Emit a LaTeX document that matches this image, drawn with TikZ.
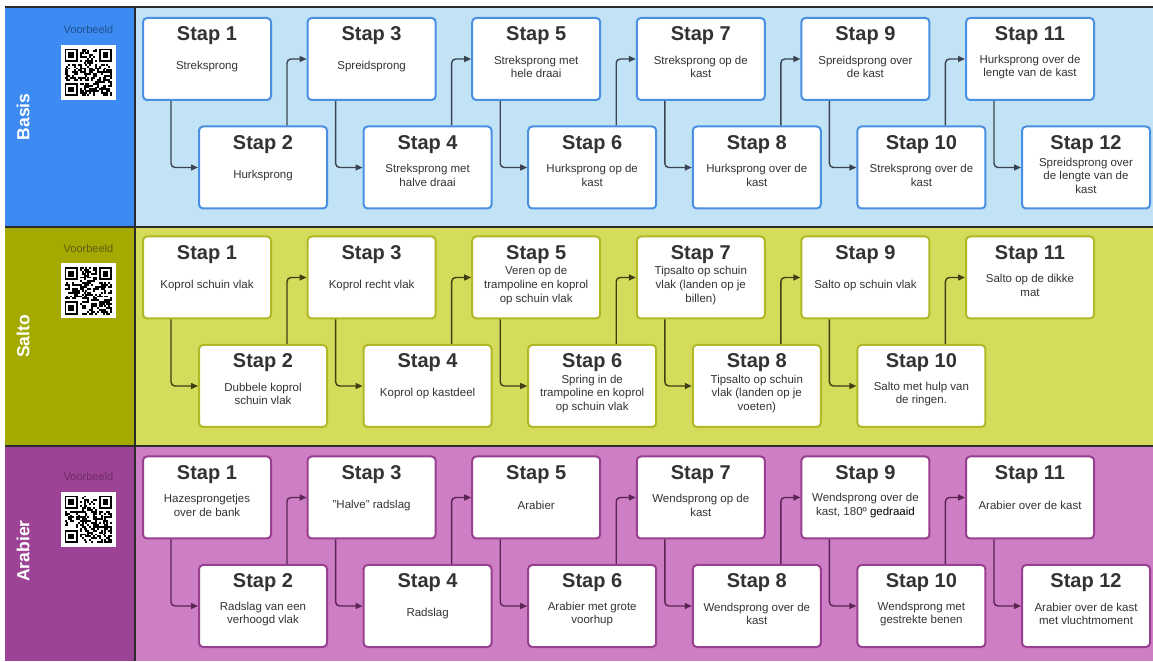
\documentclass[tikz,border=0pt]{standalone}
\usepackage{fontspec}
\setmainfont{Liberation Sans}
\usetikzlibrary{positioning}
\usetikzlibrary{arrows.meta}

\definecolor{tekst}{HTML}{333333}
\definecolor{lijnkleur}{HTML}{2B2B2B}
\definecolor{basiskop}{HTML}{3D8BF2}
\definecolor{basisbaan}{HTML}{C2E2F6}
\definecolor{basisrand}{HTML}{4A90E2}
\definecolor{basispijl}{HTML}{3A4450}
\definecolor{basisvb}{HTML}{1E4F91}
\definecolor{saltokop}{HTML}{A4AA00}
\definecolor{saltobaan}{HTML}{D5DC5B}
\definecolor{saltorand}{HTML}{B0B825}
\definecolor{saltopijl}{HTML}{3F3F14}
\definecolor{saltovb}{HTML}{5B5E12}
\definecolor{arabierkop}{HTML}{9D4395}
\definecolor{arabierbaan}{HTML}{CD7EC5}
\definecolor{arabierrand}{HTML}{98408F}
\definecolor{arabierpijl}{HTML}{5A2453}
\definecolor{arabiervb}{HTML}{6E2B67}

\begin{document}
\begin{tikzpicture}[x=1pt,y=1pt,
    stapbox/.style={draw, fill=white, rounded corners=4pt, line width=2pt,
      minimum width=128pt, minimum height=82pt, inner sep=0pt},
    titel/.style={font=\fontsize{20}{24}\selectfont\bfseries, text=tekst, inner sep=0pt, anchor=base},
    omschr/.style={font=\fontsize{11.5}{13.6}\selectfont, text=tekst, align=center, inner sep=0pt},
    pijl/.style={line width=1.4pt, rounded corners=4pt, -{Triangle[length=7pt,width=6pt]}},
    kop/.style={rotate=90, text=white, font=\fontsize{17.5}{20}\selectfont\bfseries},
    voorbeeld/.style={font=\fontsize{11}{13}\selectfont, inner sep=0pt},
    qrvak/.style={fill=white, minimum size=55pt, inner sep=0pt},
    lijn/.style={draw=lijnkleur, line width=1.3pt}]

  \useasboundingbox (0,0) rectangle (1153,661);

  % banen
  \fill[basiskop] (5,654) rectangle (135,434);
  \fill[basisbaan] (135,654) rectangle (1153,434);
  \fill[saltokop] (5,434) rectangle (135,215);
  \fill[saltobaan] (135,434) rectangle (1153,215);
  \fill[arabierkop] (5,215) rectangle (135,0);
  \fill[arabierbaan] (135,215) rectangle (1153,0);
  \draw[lijn] (5,654) -- (1153,654);
  \draw[lijn] (5,434) -- (1153,434);
  \draw[lijn] (5,215) -- (1153,215);
  \draw[lijn] (135,654) -- (135,0);

  % koppen
  \node[kop] (basis) at (23,544) {Basis};
  \node[kop] (salto) at (23,324.5) {Salto};
  \node[kop] (arabier) at (23,110) {Arabier};
  \node[voorbeeld, text=basisvb] (vb) at (88.5,631) {Voorbeeld};
  \node[voorbeeld, text=saltovb] (vs) at (88.5,412) {Voorbeeld};
  \node[voorbeeld, text=arabiervb] (va) at (88.5,184) {Voorbeeld};
  \node[qrvak] (qrb) at (88.5,588.5) {};
  \node[qrvak] (qrs) at (88.5,370) {};
  \node[qrvak] (qra) at (88.5,141.5) {};

  % qr-codes
  \pgfmathsetseed{11}
  \foreach \q in {qrb,qrs,qra}{
    \foreach \fx/\fy in {0/0,18/0,0/18}{
      \fill ([shift={(3.75+\fx*1.9,-3.75-\fy*1.9)}]\q.north west) rectangle +(13.3,-13.3);
      \fill[white] ([shift={(5.65+\fx*1.9,-5.65-\fy*1.9)}]\q.north west) rectangle +(9.5,-9.5);
      \fill ([shift={(7.55+\fx*1.9,-7.55-\fy*1.9)}]\q.north west) rectangle +(5.7,-5.7);
    }
    \foreach \r in {0,...,24}{
      \foreach \c in {0,...,24}{
        \pgfmathtruncatemacro\zwart{((\r<8 && \c<8) || (\r<8 && \c>16) || (\r>16 && \c<8)) ? 0 : random(0,1)}
        \ifnum\zwart=1
          \fill ([shift={(3.75+\c*1.9,-3.75-\r*1.9)}]\q.north west) rectangle +(1.95,-1.95);
        \fi
      }
    }
  }

  % basis
  \foreach \i/\oms in {1/Streksprong, 2/Hurksprong, 3/Spreidsprong,
      4/{Streksprong met\\halve draai}, 5/{Streksprong met\\hele draai},
      6/{Hurksprong op de\\kast}, 7/{Streksprong op de\\kast},
      8/{Hurksprong over de\\kast}, 9/{Spreidsprong over\\de kast},
      10/{Streksprong over de\\kast}, 11/{Hurksprong over de\\lengte van de kast},
      12/{Spreidsprong over\\de lengte van de\\kast}}{
    \pgfmathsetmacro\x{207+164.6*int((\i-1)/2)+56*(1-mod(\i,2))}
    \pgfmathsetmacro\y{602-108.5*(1-mod(\i,2))}
    \node[stapbox, draw=basisrand] (b\i) at (\x,\y) {};
    \node[titel] (tb\i) at ([yshift=-24pt]b\i.north) {Stap \i};
    \node[omschr] (ob\i) at ([yshift=-50pt]b\i.north) {\oms};
  }
  \foreach \i [evaluate=\i as \j using int(\i+1)] in {1,...,11}{
    \ifodd\i
      \draw[pijl, color=basispijl] ([xshift=29pt]b\i.south west) |- (b\j.west);
    \else
      \draw[pijl, color=basispijl] ([xshift=89pt]b\i.north west) |- (b\j.west);
    \fi
  }

  % salto
  \foreach \i/\oms in {1/Koprol schuin vlak, 2/{Dubbele koprol\\schuin vlak},
      3/Koprol recht vlak, 4/Koprol op kastdeel,
      5/{Veren op de\\trampoline en koprol\\op schuin vlak},
      6/{Spring in de\\trampoline en koprol\\op schuin vlak},
      7/{Tipsalto op schuin\\vlak (landen op je\\billen)},
      8/{Tipsalto op schuin\\vlak (landen op je\\voeten)},
      9/Salto op schuin vlak, 10/{Salto met hulp van\\de ringen.},
      11/{Salto op de dikke\\mat}}{
    \pgfmathsetmacro\x{207+164.6*int((\i-1)/2)+56*(1-mod(\i,2))}
    \pgfmathsetmacro\y{383.5-108.5*(1-mod(\i,2))}
    \node[stapbox, draw=saltorand] (s\i) at (\x,\y) {};
    \node[titel] (ts\i) at ([yshift=-24pt]s\i.north) {Stap \i};
    \node[omschr] (os\i) at ([yshift=-50pt]s\i.north) {\oms};
  }
  \foreach \i [evaluate=\i as \j using int(\i+1)] in {1,...,10}{
    \ifodd\i
      \draw[pijl, color=saltopijl] ([xshift=29pt]s\i.south west) |- (s\j.west);
    \else
      \draw[pijl, color=saltopijl] ([xshift=89pt]s\i.north west) |- (s\j.west);
    \fi
  }

  % arabier
  \foreach \i/\oms in {1/{Hazesprongetjes\\over de bank}, 2/{Radslag van een\\verhoogd vlak},
      3/{"Halve" radslag}, 4/Radslag, 5/Arabier,
      6/{Arabier met grote\\voorhup}, 7/{Wendsprong op de\\kast},
      8/{Wendsprong over de\\kast},
      9/{Wendsprong over de\\kast, 180º \textcolor{black}{gedraaid}},
      10/{Wendsprong met\\gestrekte benen}, 11/Arabier over de kast,
      12/{Arabier over de kast\\met vluchtmoment}}{
    \pgfmathsetmacro\x{207+164.6*int((\i-1)/2)+56*(1-mod(\i,2))}
    \pgfmathsetmacro\y{163.5-108.5*(1-mod(\i,2))}
    \node[stapbox, draw=arabierrand] (a\i) at (\x,\y) {};
    \node[titel] (ta\i) at ([yshift=-24pt]a\i.north) {Stap \i};
    \node[omschr] (oa\i) at ([yshift=-50pt]a\i.north) {\oms};
  }
  \foreach \i [evaluate=\i as \j using int(\i+1)] in {1,...,11}{
    \ifodd\i
      \draw[pijl, color=arabierpijl] ([xshift=29pt]a\i.south west) |- (a\j.west);
    \else
      \draw[pijl, color=arabierpijl] ([xshift=89pt]a\i.north west) |- (a\j.west);
    \fi
  }
\end{tikzpicture}
\end{document}
